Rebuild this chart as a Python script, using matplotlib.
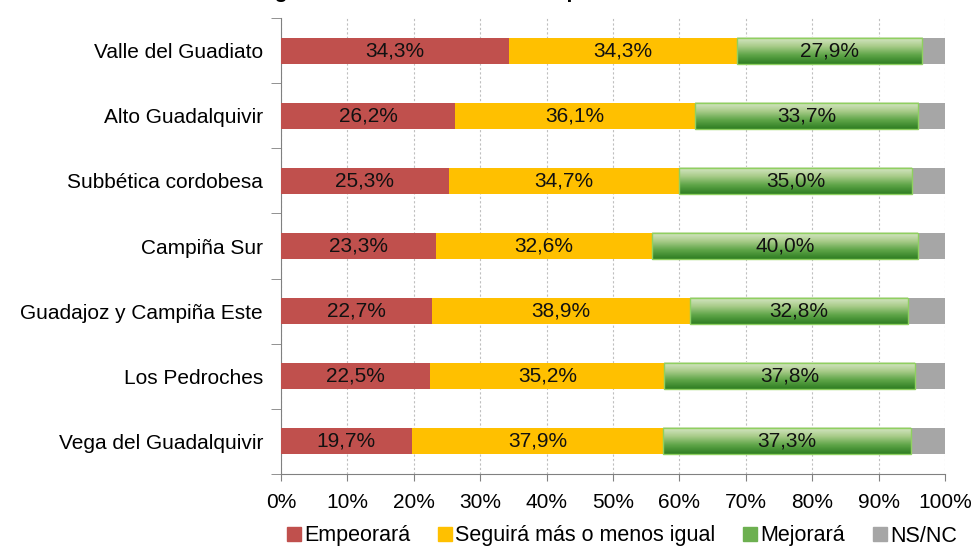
import numpy as np
import matplotlib
matplotlib.use("Agg")
import matplotlib.pyplot as plt
from matplotlib.patches import Patch
from matplotlib.colors import LinearSegmentedColormap

plt.rcParams['font.family'] = ['Liberation Sans', 'DejaVu Sans']

categories = ["Valle del Guadiato", "Alto Guadalquivir", "Subbética cordobesa",
              "Campiña Sur", "Guadajoz y Campiña Este", "Los Pedroches",
              "Vega del Guadalquivir"]
empeorara = [34.3, 26.2, 25.3, 23.3, 22.7, 22.5, 19.7]
seguira = [34.3, 36.1, 34.7, 32.6, 38.9, 35.2, 37.9]
mejorara = [27.9, 33.7, 35.0, 40.0, 32.8, 37.8, 37.3]
nsnc = [3.5, 4.0, 5.0, 4.1, 5.6, 4.5, 5.1]
series_names = ["Empeorará", "Seguirá más o menos igual", "Mejorará", "NS/NC"]
xticks = [0, 10, 20, 30, 40, 50, 60, 70, 80, 90, 100]
xtick_labels = [f"{v}%" for v in xticks]
title = "Gráfico 7. Estado en general de la comarca en los próximos tres años en la comarca"

red = "#C0504D"
yellow = "#FFC000"
grey = "#A6A6A6"
green_edge = "#8FD060"

fig = plt.figure(figsize=(9.72, 5.46), dpi=100)
ax = fig.add_axes([281/972, 1-474/546, (945-281)/972, (474-18)/546])

n = len(categories)
y = np.arange(n)[::-1]
h = 0.40

tf = 15
left = np.zeros(n)
ax.barh(y, empeorara, left=left, height=h, color=red, zorder=3)
left = left + np.array(empeorara)
ax.barh(y, seguira, left=left, height=h, color=yellow, zorder=3)
left2 = left + np.array(seguira)
gbars = ax.barh(y, mejorara, left=left2, height=h, color="none",
                edgecolor=green_edge, linewidth=1.0, zorder=5)
left3 = left2 + np.array(mejorara)
ax.barh(y, nsnc, left=left3, height=h, color=grey, zorder=3)

# gradient for green bars
gcmap = LinearSegmentedColormap.from_list("g", ["#D9E8C8", "#A9CC8A", "#5FA548", "#2E7D22"])
grad = np.linspace(0, 1, 64).reshape(-1, 1)
for b in gbars:
    x0, y0 = b.get_x(), b.get_y()
    w, hh = b.get_width(), b.get_height()
    ax.imshow(grad, cmap=gcmap, aspect='auto', extent=[x0, x0 + w, y0, y0 + hh],
              origin='upper', zorder=4, interpolation='bilinear')

# labels
for i in range(n):
    ax.text(empeorara[i] / 2, y[i], f"{empeorara[i]:.1f}%".replace(".", ","),
            ha='center', va='center', fontsize=tf, color="#111111", zorder=6)
    ax.text(left[i] + seguira[i] / 2, y[i], f"{seguira[i]:.1f}%".replace(".", ","),
            ha='center', va='center', fontsize=tf, color="#111111", zorder=6)
    ax.text(left2[i] + mejorara[i] / 2, y[i], f"{mejorara[i]:.1f}%".replace(".", ","),
            ha='center', va='center', fontsize=tf, color="#111111", zorder=6)

ax.set_xlim(0, 100)
ax.set_ylim(-0.5, n - 0.5)
ax.set_xticks(xticks)
ax.set_xticklabels(xtick_labels, fontsize=tf)
ax.set_yticks(y)
ax.set_yticklabels(categories, fontsize=tf)
ax.tick_params(axis='y', length=0, pad=13)
ax.tick_params(axis='x', length=5, color="#808080", pad=9)
# category boundary ticks
ax.set_yticks(np.arange(-0.5, n, 1.0), minor=True)
ax.tick_params(axis='y', which='minor', length=7, color="#808080")

ax.grid(axis='x', color="#BFBFBF", linestyle=(0, (2, 2)), linewidth=0.8, zorder=0)
for s in ['top', 'right']:
    ax.spines[s].set_visible(False)
ax.spines['left'].set_color("#808080")
ax.spines['bottom'].set_color("#808080")

handles = [Patch(color=red), Patch(color=yellow), Patch(color="#6DB050"), Patch(color=grey)]
fig.legend(handles, series_names, loc='center', bbox_to_anchor=(622/972, 1-536/546),
           ncol=4, frameon=False, fontsize=tf + 0.5, handlelength=0.65, handleheight=0.65,
           handletextpad=0.15, columnspacing=1.3, borderpad=0)

fig.text(0.5, 1 + 2/546, title, ha='center', va='baseline', fontsize=15,
         fontweight='bold')

fig.savefig("out.png", dpi=100)
